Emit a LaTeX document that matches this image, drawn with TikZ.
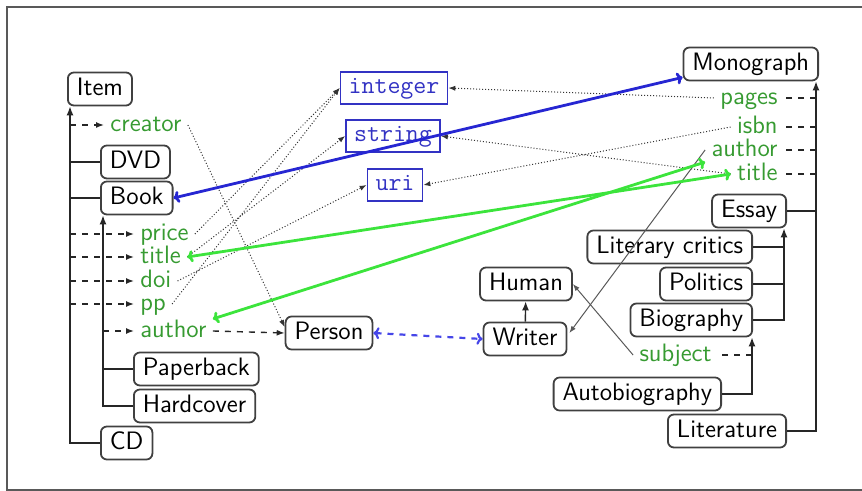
\documentclass[tikz,border=0pt]{standalone}
\usetikzlibrary{arrows.meta,calc}
\definecolor{propgreen}{RGB}{55,155,50}
\definecolor{linkgreen}{RGB}{60,228,60}
\definecolor{linkblue}{RGB}{38,38,210}
\definecolor{dtblue}{RGB}{50,50,195}
\definecolor{dashblue}{RGB}{70,70,232}
\begin{document}
\begin{tikzpicture}[x=0.5pt,y=-0.5pt,
  font=\sffamily\fontsize{12.6}{15}\selectfont,
  cls/.style={draw=black!75, line width=0.9pt, rounded corners=3pt, inner xsep=4.5pt, inner ysep=0pt,
    minimum height=16.5pt, text height=9pt, text depth=2.7pt},
  prop/.style={text=propgreen, inner xsep=3pt, inner ysep=0pt, text height=9pt, text depth=2.7pt},
  dtype/.style={draw=dtblue, text=dtblue, line width=0.9pt, font=\ttfamily\fontsize{12.6}{15}\selectfont,
    inner xsep=4pt, inner ysep=0pt, minimum height=16pt, text height=8.4pt, text depth=2.7pt},
  treeline/.style={line width=0.7pt, draw=black!85},
  isaarrow/.style={treeline, -{Latex[length=4.5pt,width=3.5pt]}},
  propdash/.style={treeline, dashed, -{Latex[length=4pt,width=3pt]}},
  propplain/.style={treeline, dashed},
  rangelink/.style={draw=black!80, line width=0.5pt, densely dotted, -{Latex[length=3.5pt,width=2.6pt]}},
  assoclink/.style={draw=black!65, line width=0.5pt, -{Latex[length=3.5pt,width=2.6pt]}},
  corresp/.style={line width=1.4pt, {To[length=3pt,width=6pt]}-{To[length=3pt,width=6pt]}},
]
\useasboundingbox (0,0) rectangle (862,491);
% open frame running off the right edge
\draw[black!65, line width=1pt] (862,7) -- (7,7) -- (7,490) -- (862,490);

% --- left hierarchy: Item and Book
\node[cls, anchor=west] (item) at (67,89) {Item};
\node[prop, anchor=west] (creator) at (104,125) {creator};
\node[cls, anchor=west] (dvd) at (100,162) {DVD};
\node[cls, anchor=west] (book) at (100,198) {Book};
\node[prop, anchor=west] (price) at (134,234) {price};
\node[prop, anchor=west] (ltitle) at (134,257) {title};
\node[prop, anchor=west] (doi) at (134,281) {doi};
\node[prop, anchor=west] (pp) at (134,304) {pp};
\node[prop, anchor=west] (lauthor) at (134,331) {author};
\node[cls, anchor=west] (paperback) at (133,369) {Paperback};
\node[cls, anchor=west] (hardcover) at (133,406) {Hardcover};
\node[cls, anchor=west] (cd) at (100,443) {CD};

% --- datatypes
\node[dtype] (integer) at (394,88) {integer};
\node[dtype] (string) at (393,136) {string};
\node[dtype] (uri) at (395,185) {uri};

% --- middle classes
\node[cls] (person) at (329,333) {Person};
\node[cls] (human) at (526,284) {Human};
\node[cls] (writer) at (525,339) {Writer};

% --- right hierarchy: Monograph and Essay
\node[cls, anchor=east] (monograph) at (819,64) {Monograph};
\node[prop, anchor=east] (pages) at (784,98) {pages};
\node[prop, anchor=east] (isbn) at (784,127) {isbn};
\node[prop, anchor=east] (rauthor) at (784,150) {author};
\node[prop, anchor=east] (rtitle) at (784,174) {title};
\node[cls, anchor=east] (essay) at (787,211) {Essay};
\node[cls, anchor=east] (litcrit) at (753,247) {Literary critics};
\node[cls, anchor=east] (politics) at (753,284) {Politics};
\node[cls, anchor=east] (biography) at (753,320) {Biography};
\node[prop, anchor=east] (subject) at (718,355) {subject};
\node[cls, anchor=east] (autobiography) at (722,394) {Autobiography};
\node[cls, anchor=east] (literature) at (787,431) {Literature};

% --- subclass trees and properties, left
\coordinate (ta) at ($(item.south west)+(3,0)$);
\draw[isaarrow] (cd.west) -| (ta);
\draw[treeline] (dvd.west) -- (dvd.west -| ta);
\draw[treeline] (book.west) -- (book.west -| ta);
\foreach \p in {creator,price,ltitle,doi,pp}
  \draw[propdash] (\p.west -| ta) -- (\p.west);
\coordinate (tb) at ($(book.south west)+(3,0)$);
\draw[isaarrow] (hardcover.west) -| (tb);
\draw[treeline] (paperback.west) -- (paperback.west -| tb);
\draw[propdash] (lauthor.west -| tb) -- (lauthor.west);

% --- subclass trees and properties, right
\coordinate (tc) at ($(monograph.south east)+(-3,0)$);
\draw[isaarrow] (literature.east) -| (tc);
\draw[treeline] (essay.east) -- (essay.east -| tc);
\foreach \p in {pages,isbn,rauthor,rtitle}
  \draw[propplain] (\p.east -| tc) -- (\p.east);
\coordinate (td) at ($(essay.south east)+(-3,0)$);
\draw[isaarrow] (biography.east) -| (td);
\draw[treeline] (litcrit.east) -- (litcrit.east -| td);
\draw[treeline] (politics.east) -- (politics.east -| td);
\coordinate (te) at ($(biography.south east)+(-1,0)$);
\draw[isaarrow] (autobiography.east) -| (te);
\draw[propplain] (subject.east -| te) -- (subject.east);

\draw[isaarrow] (writer) -- (human);

% --- property ranges
\draw[rangelink] (price.east) -- (integer.west);
\draw[rangelink] (pp.east) -- (integer.west);
\draw[rangelink] (ltitle.east) -- (string.west);
\draw[rangelink] (doi.east) -- (uri.west);
\draw[rangelink] (creator.east) -- ($(person.west)+(0,-6)$);
\draw[propdash] (lauthor.east) -- (person.west);
\draw[rangelink] (pages.west) -- (integer.east);
\draw[rangelink] (isbn.west) -- (uri.east);
\draw[rangelink] (rtitle.west) -- (string.east);
\draw[assoclink] (rauthor.west) -- ($(writer.east)+(2,-6)$);
\draw[assoclink] (subject.west) -- (human.east);

% --- correspondences
\draw[corresp, linkblue] (book.east) -- ([yshift=2pt]monograph.south west);
\draw[corresp, linkgreen] (ltitle.east) -- (rtitle.west);
\draw[corresp, linkgreen] (lauthor.north east) -- (rauthor.south west);
\draw[dashblue, line width=1.1pt, dashed, {To[length=3pt,width=6pt]}-{To[length=3pt,width=6pt]}]
  (person.east) -- (writer.west);
\end{tikzpicture}
\end{document}
